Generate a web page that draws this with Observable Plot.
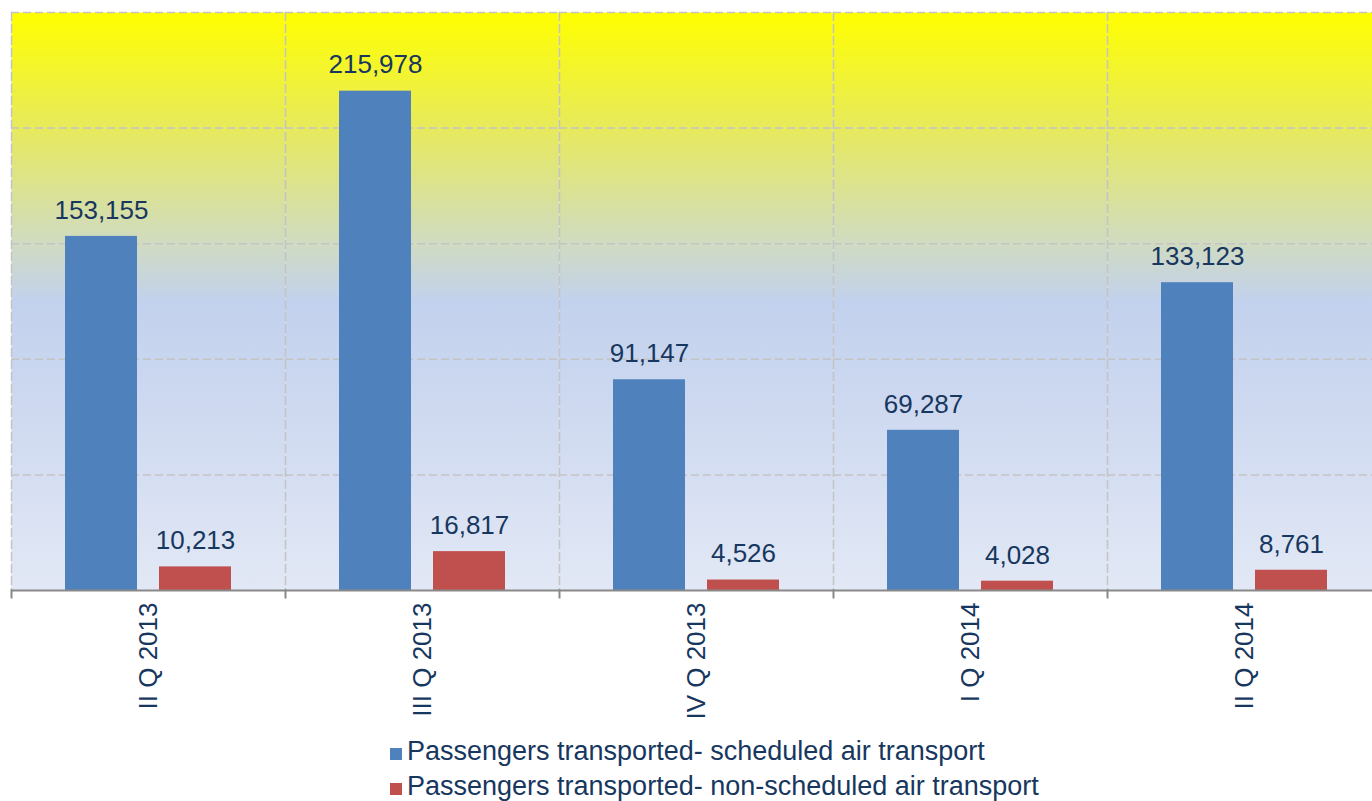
<!DOCTYPE html>
<html>
<head>
<meta charset="utf-8">
<script src="https://cdn.jsdelivr.net/npm/d3@7"></script>
<script src="https://cdn.jsdelivr.net/npm/@observablehq/plot@0.6"></script>
<style>
  html, body { margin: 0; padding: 0; background: #fff; }
  #wrap { position: relative; width: 1372px; height: 801px; overflow: hidden; font-family: "Liberation Sans", Arial, sans-serif; }
  #legend { position: absolute; left: 390px; top: 734px; font-size: 27px; line-height: 35px; color: #17375e; }
  .row { display: flex; align-items: center; white-space: nowrap; }
  .sw { width: 12px; height: 12px; margin-right: 5px; margin-top: 5px; flex: none; }
</style>
</head>
<body>
<div id="wrap"><div id="chart"></div><div id="legend"></div></div>
<script>
const categories = ["II Q 2013", "III Q 2013", "IV Q 2013", "I Q 2014", "II Q 2014"];
const seriesNames = ["Passengers transported- scheduled air transport", "Passengers transported- non-scheduled air transport"];
const scheduled = [153155, 215978, 91147, 69287, 133123];
const nonScheduled = [10213, 16817, 4526, 4028, 8761];
const colors = ["#4f81bd", "#c0504d"];
const gridTicks = [50000, 100000, 150000, 200000, 250000];

const data = [];
categories.forEach((c, i) => {
  data.push({category: c, series: seriesNames[0], value: scheduled[i]});
  data.push({category: c, series: seriesNames[1], value: nonScheduled[i]});
});

const W = 1372, H = 730, mTop = 12, mBottom = 140;
const plotH = H - mTop - mBottom;
const fmt = d3.format(",");

const chart = Plot.plot({
  width: W, height: H,
  marginLeft: 11, marginRight: -9, marginTop: mTop, marginBottom: mBottom,
  style: {fontFamily: "'Liberation Sans', Arial, sans-serif", fontSize: "26px", color: "#17375e", background: "transparent"},
  fx: {domain: categories, padding: 0, label: null, tickSize: 0, tickPadding: 12, tickRotate: -90},
  x: {domain: seriesNames, paddingInner: 0.234, paddingOuter: 0.574, axis: null},
  y: {domain: [0, 250000], axis: null},
  color: {domain: seriesNames, range: colors},
  marks: [
    Plot.frame({fill: "url(#bgGrad)", stroke: "none"}),
    Plot.gridY(gridTicks, {stroke: "#c4c4c4", strokeOpacity: 1, strokeWidth: 1.5, strokeDasharray: "8,4"}),
    Plot.frame({anchor: "left", stroke: "#c4c4c4", strokeWidth: 1.5, strokeDasharray: "8,4"}),
    Plot.barY(data, {fx: "category", x: "series", y: "value", fill: "series"}),
    Plot.text(data, {fx: "category", x: "series", y: "value", text: d => fmt(d.value), dy: -26, fontSize: 26, fill: "#17375e"}),
    Plot.ruleY([0], {stroke: "#898989", strokeWidth: 2}),
    Plot.frame({anchor: "left", stroke: "#898989", strokeWidth: 2, insetTop: plotH, insetBottom: -7})
  ]
});

const svg = d3.select(chart);
const grad = svg.insert("defs", ":first-child").append("linearGradient")
  .attr("id", "bgGrad").attr("x1", 0).attr("y1", 0).attr("x2", 0).attr("y2", 1);
[[0, "#ffff00"], [0.2, "#e7ea5c"], [0.4, "#d0dbc2"], [0.5, "#c2d1ed"], [0.75, "#d2dcf1"], [1, "#e2e8f5"]]
  .forEach(([o, c]) => grad.append("stop").attr("offset", o).attr("stop-color", c));

document.getElementById("chart").appendChild(chart);

const legend = d3.select("#legend");
seriesNames.forEach((s, i) => {
  const row = legend.append("div").attr("class", "row");
  row.append("span").attr("class", "sw").style("background", colors[i]);
  row.append("span").text(s);
});
</script>
</body>
</html>
